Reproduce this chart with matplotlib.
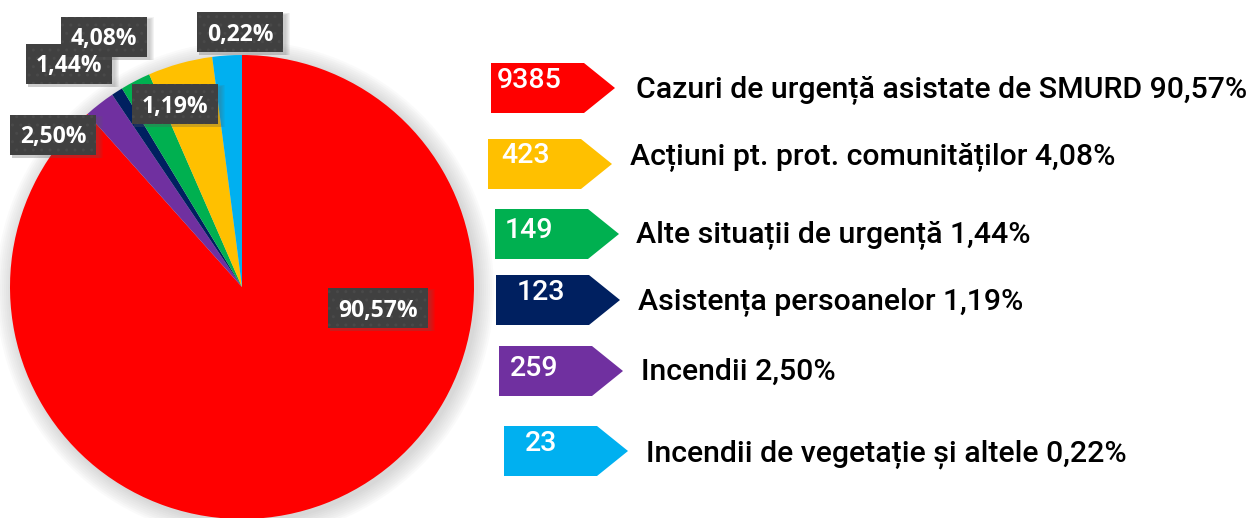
import matplotlib
matplotlib.use("Agg")
import matplotlib.pyplot as plt
from matplotlib.patches import Polygon, Rectangle, Circle

# categories in pie order (clockwise from 12 o'clock)
categories = [
    "Cazuri de urgență asistate de SMURD",
    "Incendii",
    "Asistența persoanelor",
    "Alte situații de urgență",
    "Acțiuni pt. prot. comunităților",
    "Incendii de vegetație și altele",
]
counts = [9385, 259, 123, 149, 423, 23]
percent_labels = ["90,57%", "2,50%", "1,19%", "1,44%", "4,08%", "0,22%"]
# wedge sizes as drawn in the picture (not exactly proportional to the labels)
slice_sizes = [88.4, 2.15, 0.8, 2.1, 4.5, 2.05]
colors = ["#FF0000", "#7030A0", "#002060", "#00B050", "#FFC000", "#00B0F0"]
legend_order = [0, 4, 3, 2, 1, 5]

# layout (pixels, y measured from the top)
W, H = 1254, 518
cx, cy, R = 242, 287, 232
label_xy = {0: (378, 308), 1: (53, 135), 2: (175, 104), 3: (69, 63.5), 4: (104, 36.5), 5: (240, 32)}
label_draw_order = [0, 1, 2, 3, 4, 5]
arrow_left = [491, 488, 495, 496, 499, 504]
arrow_top = [63, 139, 209, 275, 346, 426]
arrow_h, rect_w, tip_w = 50, 93, 31
num_x = [497, 501, 505, 517, 510, 525]
num_base = [88, 163, 238, 300, 376, 451]
text_x = [636, 630, 636, 638, 641, 646]
text_base = [98, 165, 243, 310, 380, 461]


def Y(y):
    return H - y


fig = plt.figure(figsize=(W / 100, H / 100), dpi=100)
ax = fig.add_axes([0, 0, 1, 1])

# soft shadow round the pie
for k in range(1, 18, 2):
    ax.add_patch(Circle((cx + 3, Y(cy) - 3), R + k, color="#808080", alpha=0.035, lw=0, zorder=0))

ax.pie(slice_sizes, colors=colors, startangle=90, counterclock=False,
       center=(cx, Y(cy)), radius=R, wedgeprops=dict(linewidth=0))

# percentage labels in dark boxes
texts = {}
for i in label_draw_order:
    x, y = label_xy[i]
    texts[i] = ax.text(x, Y(y + 8.5), percent_labels[i], ha="center", va="baseline",
                       color="white", fontsize=16.5, fontweight="bold",
                       fontfamily="Open Sans", zorder=50)

fig.canvas.draw()
for n, i in enumerate(label_draw_order):
    x, y = label_xy[i]
    bb = texts[i].get_window_extent()
    bw, bh = bb.width + 20, 40
    z = 5 + n * 2
    for s in range(1, 6):
        ax.add_patch(Rectangle((x - bw / 2 + 2, Y(y) - bh / 2 - 3), bw + s, bh + s / 2,
                               fc="#606060", alpha=0.07, lw=0, zorder=z - 0.5))
    ax.add_patch(Rectangle((x - bw / 2, Y(y) - bh / 2), bw, bh, fc="#404040",
                           ec="#494949", lw=0, hatch="..", zorder=z))

# legend with arrow tags
for row, i in enumerate(legend_order):
    x0, top = arrow_left[row], arrow_top[row]
    pts = [(x0, Y(top)), (x0 + rect_w, Y(top)), (x0 + rect_w + tip_w, Y(top + arrow_h / 2)),
           (x0 + rect_w, Y(top + arrow_h)), (x0, Y(top + arrow_h))]
    ax.add_patch(Polygon(pts, closed=True, fc=colors[i], lw=0))
    ax.text(num_x[row], Y(num_base[row]), str(counts[i]), ha="left", va="baseline",
            color="white", fontsize=20.5, fontfamily="Roboto", fontweight="medium")
    ax.text(text_x[row], Y(text_base[row]), f"{categories[i]} {percent_labels[i]}",
            ha="left", va="baseline", color="black", fontsize=21.8, fontfamily="Roboto",
            fontweight="medium")

ax.set_xlim(0, W)
ax.set_ylim(0, H)
ax.set_aspect("auto")
ax.axis("off")

fig.savefig("out.png", dpi=100)
